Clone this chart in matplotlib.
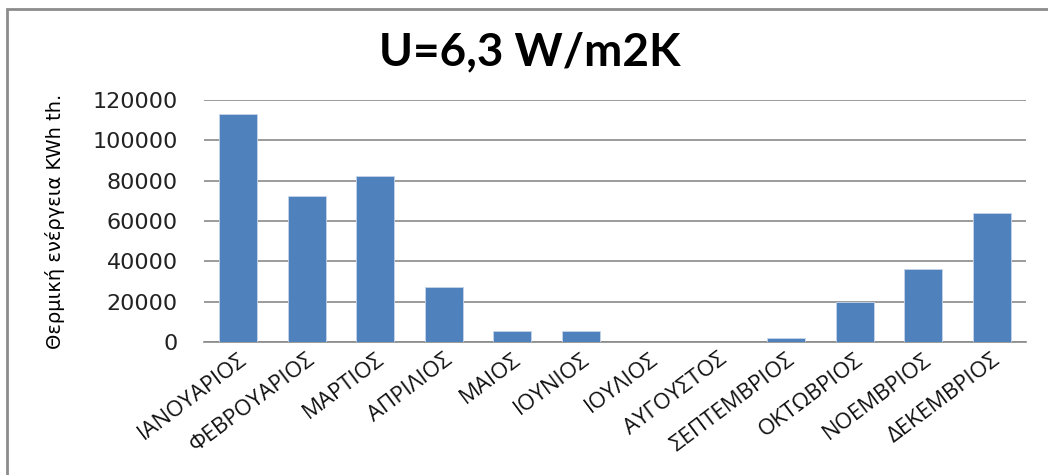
import matplotlib
matplotlib.use('Agg')
import matplotlib.pyplot as plt
from matplotlib.patches import Rectangle

# Δεδομένα
months = ['ΙΑΝΟΥΑΡΙΟΣ', 'ΦΕΒΡΟΥΑΡΙΟΣ', 'ΜΑΡΤΙΟΣ', 'ΑΠΡΙΛΙΟΣ', 'ΜΑΙΟΣ', 'ΙΟΥΝΙΟΣ',
          'ΙΟΥΛΙΟΣ', 'ΑΥΓΟΥΣΤΟΣ', 'ΣΕΠΤΕΜΒΡΙΟΣ', 'ΟΚΤΩΒΡΙΟΣ', 'ΝΟΕΜΒΡΙΟΣ', 'ΔΕΚΕΜΒΡΙΟΣ']
energy = [113000, 72500, 82500, 27500, 5500, 5500, 0, 0, 2100, 20000, 36300, 63800]
yticks = [0, 20000, 40000, 60000, 80000, 100000, 120000]

title = 'U=6,3 W/m2K'
ylabel = 'Θερμική ενέργεια KWh th.'

W, H = 1048, 475
fig = plt.figure(figsize=(W / 100, H / 100), dpi=100)

# πλαίσιο γραφήματος
fig.patches.append(Rectangle((7 / W, -0.1), 1.2, 1 - 9 / H + 0.1, transform=fig.transFigure,
                             fill=False, edgecolor='#8c8c8c', linewidth=2))

ax = fig.add_axes([204 / W, 1 - 342 / H, (1026 - 204) / W, (342 - 100) / H])
x = range(len(months))
ax.bar(x, energy, width=0.555, color='#4f81bd', edgecolor='#c6d5ea', linewidth=0.6, zorder=3)

ax.set_xlim(-0.5, len(months) - 0.5)
ax.set_ylim(0, 120000)
ax.set_yticks(yticks)
ax.set_yticklabels([str(v) for v in yticks], fontsize=16, family='DejaVu Sans', color='#222222')
ax.yaxis.grid(True, color='#8a8a8a', linewidth=1.2, zorder=0)
ax.tick_params(axis='y', length=0, pad=19)
ax.tick_params(axis='x', length=0, pad=5)

ax.set_xticks(list(x))
ax.set_xticklabels(months, rotation=37, ha='right', va='top', rotation_mode='anchor',
                   fontsize=16, family='Open Sans', color='#111111')

for s in ['top', 'right', 'left']:
    ax.spines[s].set_visible(False)
ax.spines['bottom'].set_color('#8a8a8a')
ax.spines['bottom'].set_linewidth(1.2)

ax.set_ylabel(ylabel, fontsize=14, family='Liberation Sans Narrow', color='#000000')
ax.yaxis.set_label_coords(-139 / (1026 - 204), 0.5)

fig.text(530 / W, 1 - 52 / H, title, ha='center', va='center', fontsize=33,
         fontweight='bold', family='Lato')

fig.savefig('out.png', dpi=100)
